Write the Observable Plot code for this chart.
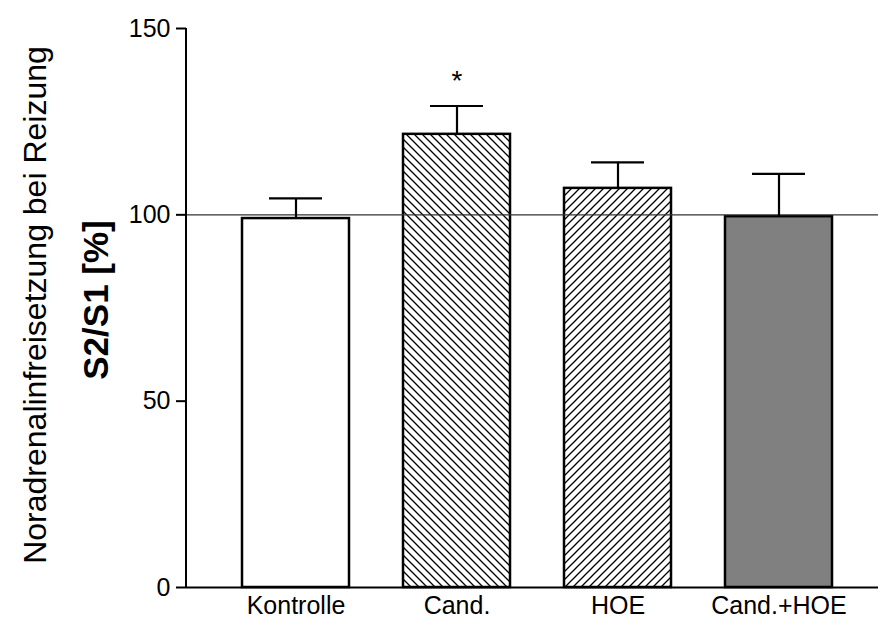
<!DOCTYPE html>
<html>
<head>
<meta charset="utf-8">
<script src="https://cdn.jsdelivr.net/npm/d3@7"></script>
<script src="https://cdn.jsdelivr.net/npm/@observablehq/plot@0.6"></script>
<style>
  html, body { margin: 0; padding: 0; background: white; }
</style>
</head>
<body>
<div id="chart"></div>
<script>
const categories = ["Kontrolle", "Cand.", "HOE", "Cand.+HOE"];
const means = [99.0, 121.6, 107.1, 99.5];
const sems = [5.4, 7.6, 7.0, 11.5];
const fills = ["white", "url(#hatchBack)", "url(#hatchFwd)", "#808080"];
const signif = ["", "*", "", ""];
const yTicks = [0, 50, 100, 150];
const refLine = [100];
const yTitle = "Noradrenalinfreisetzung bei Reizung";
const yUnit = "S2/S1 [%]";

const rows = categories.map((c, i) => ({cat: c, mean: means[i], sem: sems[i], top: means[i] + sems[i], fill: fills[i], sig: signif[i]}));

const NS = "http://www.w3.org/2000/svg";
function el(name, attrs) {
  const e = document.createElementNS(NS, name);
  for (const k in attrs) e.setAttribute(k, attrs[k]);
  return e;
}

function defsMark() {
  const g = el("g", {});
  const defs = el("defs", {});
  const s = 8;
  const back = el("pattern", {id: "hatchBack", patternUnits: "userSpaceOnUse", width: s, height: s});
  back.appendChild(el("rect", {width: s, height: s, fill: "white"}));
  back.appendChild(el("path", {d: `M${-s/2},${s/2} L${s/2},${s*1.5} M0,0 L${s},${s} M${s/2},${-s/2} L${s*1.5},${s/2}`, stroke: "black", "stroke-width": 1.3}));
  const fwd = el("pattern", {id: "hatchFwd", patternUnits: "userSpaceOnUse", width: s, height: s});
  fwd.appendChild(el("rect", {width: s, height: s, fill: "white"}));
  fwd.appendChild(el("path", {d: `M${-s/2},${s/2} L${s/2},${-s/2} M0,${s} L${s},0 M${s/2},${s*1.5} L${s*1.5},${s/2}`, stroke: "black", "stroke-width": 1.3}));
  defs.appendChild(back);
  defs.appendChild(fwd);
  g.appendChild(defs);
  return g;
}

function yAxisLine(index, scales, values, dimensions) {
  const x = dimensions.marginLeft;
  const y0 = scales.y(yTicks[0]);
  const y1 = scales.y(yTicks[yTicks.length - 1]);
  return el("line", {x1: x, x2: x, y1: y0 + 1, y2: y1, stroke: "black", "stroke-width": 2});
}

const chart = Plot.plot({
  width: 878,
  height: 622,
  marginLeft: 186,
  marginRight: 0,
  marginTop: 28,
  marginBottom: 35,
  style: {fontFamily: "'Liberation Sans', Arial, sans-serif", background: "white", color: "black"},
  x: {domain: categories, paddingInner: 0.335, paddingOuter: 0.3077, align: 0.545, label: null},
  y: {domain: [0, 150], label: null},
  marks: [
    defsMark,
    ...rows.map(r => Plot.barY([r], {x: "cat", y: "mean", fill: r.fill, stroke: "black", strokeWidth: 2.5})),
    Plot.ruleY(refLine, {stroke: "#333", strokeWidth: 1.3}),
    Plot.ruleX(rows, {x: "cat", y1: "mean", y2: "top", stroke: "black", strokeWidth: 2.2}),
    Plot.tickY(rows, {x: "cat", y: "top", stroke: "black", strokeWidth: 2.2, insetLeft: 27, insetRight: 27}),
    Plot.text(rows, {x: "cat", y: "top", text: "sig", fontSize: 28, dy: -25, fill: "black"}),
    Plot.ruleY([0], {stroke: "black", strokeWidth: 2}),
    yAxisLine,
    Plot.axisY({ticks: yTicks, tickSize: 10, tickPadding: 6, fontSize: 25, strokeWidth: 2, label: null}),
    Plot.axisX({tickSize: 0, tickPadding: 9, fontSize: 25, label: null}),
    Plot.text([yTitle], {text: d => d, frameAnchor: "left", textAnchor: "middle", lineAnchor: "middle", rotate: -90, dx: -151, dy: -3, fontSize: 32, fill: "black"}),
    Plot.text([yUnit], {text: d => d, frameAnchor: "left", textAnchor: "middle", lineAnchor: "middle", rotate: -90, dx: -90, dy: -8, fontSize: 35, fontWeight: "bold", fill: "black"})
  ]
});
document.getElementById("chart").appendChild(chart);
</script>
</body>
</html>
